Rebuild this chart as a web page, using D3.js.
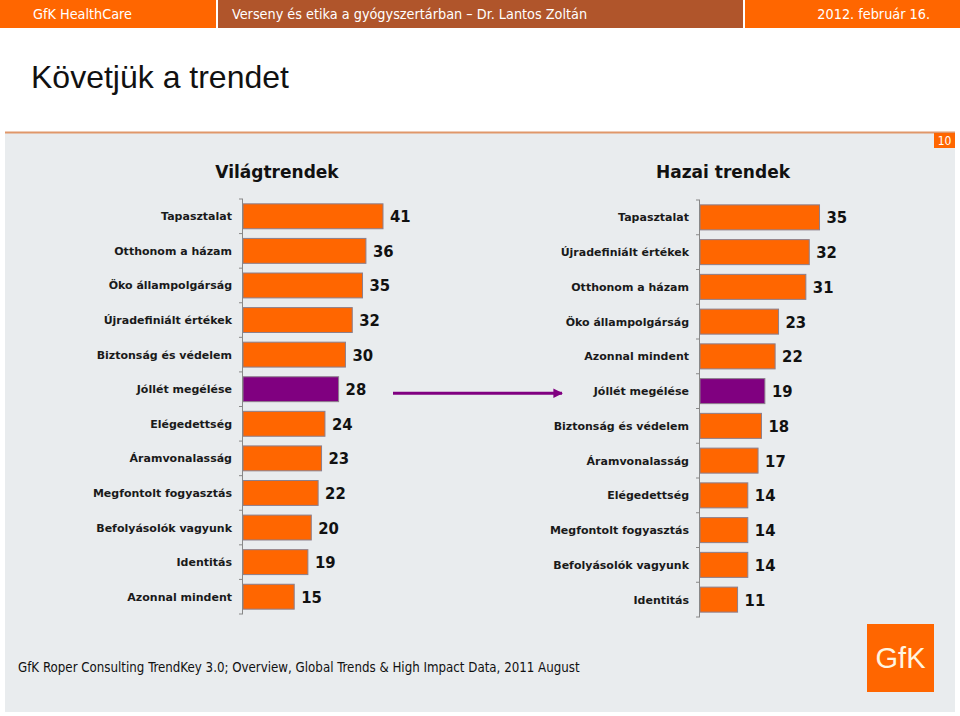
<!DOCTYPE html>
<html><head><meta charset="utf-8">
<script src="https://cdn.jsdelivr.net/npm/d3@7"></script>
<style>body{margin:0;background:#fff}svg{display:block}</style>
</head><body><svg id="c" width="960" height="716"></svg>
<script>
const worldCats = ["Tapasztalat","Otthonom a házam","Öko állampolgárság","Újradefiniált értékek","Biztonság és védelem","Jóllét megélése","Elégedettség","Áramvonalasság","Megfontolt fogyasztás","Befolyásolók vagyunk","Identitás","Azonnal mindent"];
const worldVals = [41,36,35,32,30,28,24,23,22,20,19,15];
const homeCats = ["Tapasztalat","Újradefiniált értékek","Otthonom a házam","Öko állampolgárság","Azonnal mindent","Jóllét megélése","Biztonság és védelem","Áramvonalasság","Elégedettség","Megfontolt fogyasztás","Befolyásolók vagyunk","Identitás"];
const homeVals = [35,32,31,23,22,19,18,17,14,14,14,11];
const highlight = "Jóllét megélése";
const panelTitles = ["Világtrendek","Hazai trendek"];

const svg = d3.select("#c");
const ORANGE = "#FF6600", BROWN = "#B0552B", PURPLE = "#800080";

// header
const hdr = [{x0:0,x1:216,c:ORANGE},{x0:218,x1:743,c:BROWN},{x0:745,x1:960,c:ORANGE}];
svg.selectAll("rect.h").data(hdr).join("rect").attr("x",d=>d.x0).attr("y",0)
  .attr("width",d=>d.x1-d.x0).attr("height",28).attr("fill",d=>d.c);
const hf = "'DejaVu Sans Condensed','DejaVu Sans',sans-serif";
svg.append("text").attr("x",33).attr("y",19).attr("fill","#fff").attr("font-family",hf).attr("font-size",14.3).text("GfK HealthCare");
svg.append("text").attr("x",232).attr("y",19).attr("fill","#fff").attr("font-family",hf).attr("font-size",14.3).text("Verseny és etika a gyógyszertárban – Dr. Lantos Zoltán");
svg.append("text").attr("x",930).attr("y",19).attr("text-anchor","end").attr("fill","#fff").attr("font-family",hf).attr("font-size",14.3).text("2012. február 16.");

// title
svg.append("text").attr("x",31).attr("y",88).attr("fill","#111").attr("font-family","'Liberation Sans',Arial,sans-serif").attr("font-size",32).text("Követjük a trendet");

// content panel
svg.append("rect").attr("x",5).attr("y",133).attr("width",950).attr("height",579).attr("fill","#E9ECEE");
svg.append("line").attr("x1",5).attr("x2",955).attr("y1",132.5).attr("y2",132.5).attr("stroke","#E0976A").attr("stroke-width",2);
svg.append("rect").attr("x",934).attr("y",133).attr("width",21).attr("height",15).attr("fill",ORANGE);
svg.append("text").attr("x",944.5).attr("y",145).attr("text-anchor","middle").attr("fill","#fff").attr("font-family",hf).attr("font-size",12).text("10");

const x = d3.scaleLinear().domain([0,41]).range([0,140]);
const bf = "'DejaVu Sans',Verdana,sans-serif";
const bfc = "'DejaVu Sans Condensed','DejaVu Sans',sans-serif";

function panel(cats, vals, ax, y0, y1, titleX, title) {
  const g = svg.append("g");
  const y = d3.scaleBand().domain(cats).range([y0,y1]).paddingInner(0.28).paddingOuter(0.14);
  g.append("text").attr("x",titleX).attr("y",178).attr("text-anchor","middle").attr("font-family",bf).attr("font-weight","bold").attr("font-size",17).attr("fill","#111").text(title);
  const data = cats.map((c,i)=>({c,v:vals[i]}));
  g.selectAll("rect.b").data(data).join("rect")
    .attr("x",ax).attr("y",d=>y(d.c)).attr("width",d=>x(d.v)).attr("height",y.bandwidth())
    .attr("fill",d=>d.c===highlight?PURPLE:ORANGE).attr("stroke","#8C7F8C").attr("stroke-width",1);
  g.selectAll("text.v").data(data).join("text")
    .attr("x",d=>ax+x(d.v)+7).attr("y",d=>y(d.c)+y.bandwidth()/2+6)
    .attr("font-family",bfc).attr("font-weight","bold").attr("font-size",16.5).attr("fill","#111").text(d=>d.v);
  g.selectAll("text.c").data(data).join("text")
    .attr("x",ax-11).attr("y",d=>y(d.c)+y.bandwidth()/2+4)
    .attr("text-anchor","end").attr("font-family",bf).attr("font-weight","bold").attr("font-size",11).attr("fill","#1a1a1a").text(d=>d.c);
  g.append("line").attr("x1",ax-0.5).attr("x2",ax-0.5).attr("y1",y0).attr("y2",y1).attr("stroke","#888");
  const ticks = d3.range(cats.length+1).map(i=>y0 + i*(y1-y0)/cats.length);
  g.selectAll("line.t").data(ticks).join("line").attr("x1",ax-4).attr("x2",ax).attr("y1",d=>d).attr("y2",d=>d).attr("stroke","#888");
  return y;
}
const yL = panel(worldCats, worldVals, 243, 199, 614, 277, panelTitles[0]);
const yR = panel(homeCats, homeVals, 700, 200, 617, 723, panelTitles[1]);

// arrow
const ay = yL(highlight)+yL.bandwidth()/2 + 4;
svg.append("defs").append("marker").attr("id","ah").attr("viewBox","0 0 10 10").attr("refX",9).attr("refY",5)
  .attr("markerWidth",3.2).attr("markerHeight",3.2).attr("orient","auto")
  .append("path").attr("d","M0,0L10,5L0,10z").attr("fill",PURPLE);
svg.append("line").attr("x1",393).attr("x2",562).attr("y1",ay).attr("y2",ay).attr("stroke",PURPLE).attr("stroke-width",3).attr("marker-end","url(#ah)");

// footer
svg.append("text").attr("x",18).attr("y",672).attr("font-family",hf).attr("font-size",13.2).attr("fill","#111").text("GfK Roper Consulting TrendKey 3.0; Overview, Global Trends & High Impact Data, 2011 August");
svg.append("rect").attr("x",867).attr("y",624).attr("width",67).attr("height",68).attr("fill",ORANGE);
svg.append("text").attr("x",900.5).attr("y",668).attr("text-anchor","middle").attr("fill","#FFF4E0").attr("font-family","'Liberation Sans',Arial,sans-serif").attr("font-size",29).text("GfK");
</script></body></html>
